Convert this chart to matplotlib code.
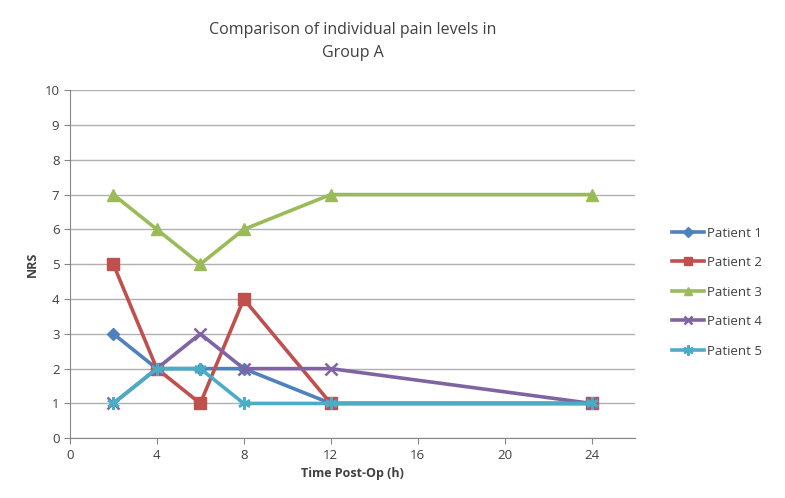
import matplotlib.pyplot as plt

# Pain scores (NRS) per patient at each time point after surgery
hours = [2, 4, 6, 8, 12, 24]
patient_1 = [3, 2, 2, 2, 1, 1]
patient_2 = [5, 2, 1, 4, 1, 1]
patient_3 = [7, 6, 5, 6, 7, 7]
patient_4 = [1, 2, 3, 2, 2, 1]
patient_5 = [1, 2, 2, 1, 1, 1]

labels = ['Patient 1', 'Patient 2', 'Patient 3', 'Patient 4', 'Patient 5']
series = [patient_1, patient_2, patient_3, patient_4, patient_5]
colors = ['#4F81BD', '#C0504D', '#9BBB59', '#8064A2', '#4BACC6']
markers = ['D', 's', '^', 'x', (6, 2, 0)]
sizes = [6, 8, 8, 8, 9]

plt.rcParams['font.family'] = ['Open Sans', 'DejaVu Sans']
txt = '#404040'

fig = plt.figure(figsize=(7.85, 4.98), dpi=100)
ax = fig.add_axes([0.089, 0.12, 0.72, 0.699])

for vals, lab, col, mk, ms in zip(series, labels, colors, markers, sizes):
    ax.plot(hours, vals, color=col, lw=2.6, marker=mk, ms=ms,
            markeredgewidth=1.8 if mk in ('x', (6, 2, 0)) else 1,
            markeredgecolor=col, label=lab)

ax.set_xlim(0, 26)
ax.set_ylim(0, 10)
ax.set_xticks(range(0, 25, 4))
ax.set_yticks(range(0, 11))
ax.yaxis.grid(True, color='#B0B0B0', lw=1)
ax.set_axisbelow(True)
for s in ['top', 'right']:
    ax.spines[s].set_visible(False)
for s in ['left', 'bottom']:
    ax.spines[s].set_color('#868686')
ax.tick_params(direction='out', length=4, color='#868686', labelcolor=txt, labelsize=9.5)

ax.set_xlabel('Time Post-Op (h)', fontsize=9, fontweight='bold', color=txt)
ax.set_ylabel('NRS', fontsize=9, fontweight='bold', color=txt)
ax.set_title('Comparison of individual pain levels in\nGroup A', fontsize=11.5,
             color=txt, pad=24, linespacing=1.6)

ax.legend(loc='center left', bbox_to_anchor=(1.045, 0.42), frameon=False,
          fontsize=9.5, labelcolor=txt, handlelength=2.4, handletextpad=0.2,
          labelspacing=1.25, markerscale=0.8)

fig.savefig('out.png', dpi=100)
